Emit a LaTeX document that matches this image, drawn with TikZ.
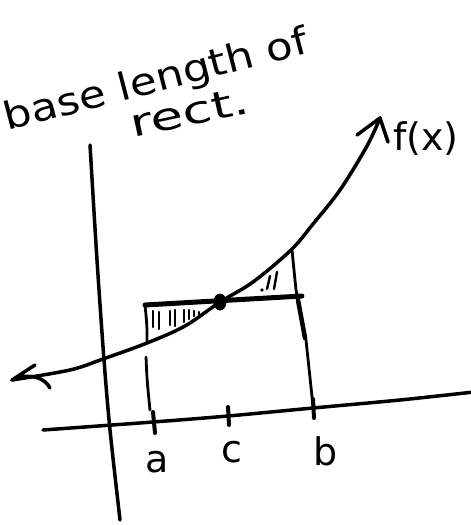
\documentclass[tikz,border=0pt]{standalone}
\usepackage{fontspec}
\setmainfont{DejaVu Sans}
\begin{document}
\begin{tikzpicture}[x=1pt,y=-1pt,
  pen/.style={line width=3.5pt,line cap=round,line join=round},
  thinpen/.style={line width=2.8pt,line cap=round,line join=round},
  boldpen/.style={line width=5pt,line cap=round,line join=round},
  hand/.style={inner sep=0pt,font=\fontsize{38}{40}\selectfont}]
\useasboundingbox (0,0) rectangle (471,525);
\fill[white] (0,0) rectangle (471,525);
% title text
\node[hand,anchor=base west,rotate=14.5,xscale=1.15] (title) at (7,131) {base length of};
\node[hand,anchor=base west,rotate=12,xscale=1.4] (rect) at (133,138) {rect.};
% axes
\coordinate (ytop) at (90,145);
\coordinate (ybot) at (120,520);
\draw[pen] plot[smooth,tension=0.5] coordinates {(ytop) (97,260) (104,360) (110,430) (ybot)};
\coordinate (xleft) at (43,430);
\coordinate (xright) at (474,392);
\draw[pen] plot[smooth,tension=0.5] coordinates {(xleft) (153,422) (228,416) (313,408) (400,400) (xright)};
% ticks
\coordinate (ta1) at (153,412); \coordinate (ta2) at (155,433);
\coordinate (tc1) at (228,407); \coordinate (tc2) at (229,425);
\coordinate (tb1) at (313,399); \coordinate (tb2) at (314,418);
\draw[pen,line width=4pt] (ta1) -- (ta2);
\draw[pen,line width=4pt] (tc1) -- (tc2);
\draw[pen,line width=4pt] (tb1) -- (tb2);
% labels
\node[hand] (la) at (157,462) {a};
\node[hand] (lc) at (232,452) {c};
\node[hand] (lb) at (326,451) {b};
% curve f(x)
\coordinate (ltip) at (12,380);
\coordinate (rtip) at (380,118);
\draw[pen] plot[smooth,tension=0.55] coordinates {(ltip) (70,370) (103,359) (147,343) (185,326) (220,302) (253,282) (291,250) (313,224) (340,190) (367,146) (rtip)};
\draw[pen] (35,365) -- (ltip) .. controls (30,372) and (45,378) .. (50,388);
\draw[pen] (357,135) -- (rtip) -- (388,142);
\node[hand] (fx) at (426,139) {f(x)};
% rectangle
\coordinate (tl) at (145,305);
\coordinate (tr) at (302,296);
\draw[boldpen] (tl) -- (tr);
\coordinate (lbot) at (150,410);
\draw[thinpen] (tl) .. controls (147,325) .. (147,342);
\draw[thinpen] (146,357) .. controls (147,380) .. (lbot);
\coordinate (rtop) at (292,250);
\coordinate (rbot) at (313,406);
\draw[thinpen] (rtop) -- (296,290) -- (306,340) -- (rbot);
\draw[pen,line width=4.5pt] (298,300) -- (305,338);
% point c on the curve
\coordinate (cpt) at (220,302);
\fill (cpt) ellipse (6.5pt and 8.5pt);
% hatching
\foreach \x/\a/\b in {153/311/327,159/312/329,170/311/325,175/310/326,184/310/322,189/310/319,194/311/316,199/312/315}
  \draw[thinpen,line width=2.4pt] (\x,\a) -- (\x,\b);
\fill (262,290) circle (1.8pt);
\draw[thinpen,line width=2.4pt] (267,289) -- (270,276);
\draw[thinpen,line width=2.4pt] (274,289) -- (277,272);
\end{tikzpicture}
\end{document}
